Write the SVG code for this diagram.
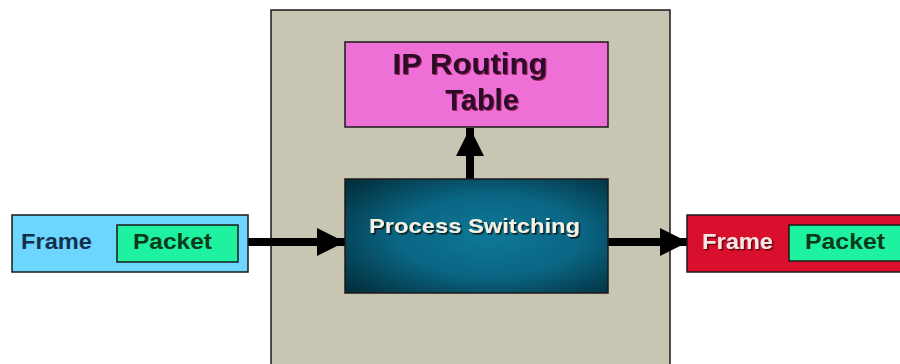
<svg xmlns="http://www.w3.org/2000/svg" width="900" height="364" viewBox="0 0 900 364">
  <defs>
    <radialGradient id="ps-grad" cx="0.55" cy="0.5" r="0.7">
      <stop offset="0" stop-color="#0e7896"/>
      <stop offset="0.5" stop-color="#0a6684"/>
      <stop offset="1" stop-color="#02303e"/>
    </radialGradient>
    <filter id="shadow-dark" x="-10%" y="-20%" width="120%" height="150%">
      <feDropShadow dx="1.5" dy="1.5" stdDeviation="0.6" flood-color="#101010" flood-opacity="0.9"/>
    </filter>
    <filter id="shadow-red" x="-10%" y="-20%" width="120%" height="150%">
      <feDropShadow dx="1.5" dy="1.5" stdDeviation="0.6" flood-color="#5a0010" flood-opacity="0.9"/>
    </filter>
    <filter id="shadow-plum" x="-10%" y="-20%" width="120%" height="150%">
      <feDropShadow dx="1" dy="1" stdDeviation="0.5" flood-color="#8a1040" flood-opacity="0.8"/>
    </filter>
    <marker id="head" viewBox="0 0 10 10" refX="10" refY="5" markerWidth="3.5" markerHeight="3.5" orient="auto" markerUnits="strokeWidth">
      <path d="M0,0 L10,5 L0,10 Z" fill="#000"/>
    </marker>
  </defs>
  <style>
    text { font-family: "Liberation Sans", Arial, sans-serif; font-weight: bold; }
    .box { stroke: #1a1a1a; stroke-width: 1.5; }
    .link { stroke: #000; stroke-width: 8; fill: none; }
    .frame-lbl { font-size: 22px; }
    .packet-lbl { font-size: 22px; fill: #0a3a1c; }
  </style>

  <rect width="900" height="364" fill="#ffffff"/>

  <!-- router chassis -->
  <g id="router">
    <rect x="271" y="10" width="399" height="370" fill="#c8c6b2" class="box"/>
  </g>

  <!-- connectors -->
  <g id="connectors">
    <line class="link" x1="248" y1="242" x2="345" y2="242" marker-end="url(#head)"/>
    <line class="link" x1="608" y1="242" x2="688" y2="242" marker-end="url(#head)"/>
    <line class="link" x1="470" y1="179" x2="470" y2="128" marker-end="url(#head)"/>
  </g>

  <!-- routing table -->
  <g id="routing-table">
    <rect x="345" y="42" width="263" height="85" fill="#ee6fd6" class="box"/>
    <text x="470" y="74" text-anchor="middle" font-size="29" textLength="155" lengthAdjust="spacingAndGlyphs" fill="#2a0a26" filter="url(#shadow-plum)">IP Routing</text>
    <text x="482" y="110" text-anchor="middle" font-size="29" fill="#2a0a26" filter="url(#shadow-plum)">Table</text>
  </g>

  <!-- switching engine -->
  <g id="process-switching">
    <rect x="345" y="179" width="263" height="114" fill="url(#ps-grad)" class="box"/>
    <text x="369" y="233" font-size="21" textLength="211" lengthAdjust="spacingAndGlyphs" fill="#f2f2e4" filter="url(#shadow-dark)">Process Switching</text>
  </g>

  <!-- inbound frame -->
  <g id="frame-in">
    <rect x="12" y="215" width="236" height="57" fill="#6cd6ff" class="box"/>
    <text x="21" y="249" class="frame-lbl" textLength="71" lengthAdjust="spacingAndGlyphs" fill="#14304e">Frame</text>
    <rect x="117" y="225" width="121" height="37" fill="#1ef2a0" class="box"/>
    <text x="133" y="249" class="packet-lbl" textLength="79" lengthAdjust="spacingAndGlyphs">Packet</text>
  </g>

  <!-- outbound frame -->
  <g id="frame-out">
    <rect x="687" y="215" width="230" height="57" fill="#d8102e" class="box"/>
    <text x="702" y="249" class="frame-lbl" textLength="71" lengthAdjust="spacingAndGlyphs" fill="#fbe4e4" filter="url(#shadow-red)">Frame</text>
    <rect x="789" y="225" width="130" height="36" fill="#1ef2a0" class="box"/>
    <text x="805" y="249" class="packet-lbl" textLength="80" lengthAdjust="spacingAndGlyphs">Packet</text>
  </g>
</svg>
